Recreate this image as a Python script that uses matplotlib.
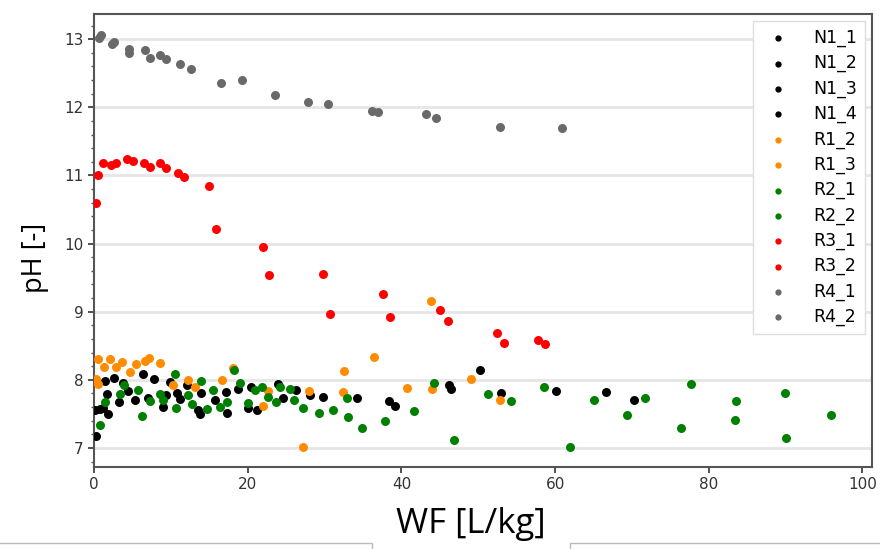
import matplotlib
matplotlib.use("Agg")
import matplotlib.pyplot as plt
from matplotlib.lines import Line2D
from matplotlib.ticker import MultipleLocator

# ---- data ----
N1_1_x = [0.22, 0.13, 0.78, 1.22, 1.87, 1.43, 1.65, 2.65, 3.82, 3.30, 4.38, 5.33]
N1_1_y = [7.18, 7.56, 7.57, 7.59, 7.50, 7.98, 7.79, 8.03, 7.95, 7.68, 7.84, 7.71]
N1_2_x = [6.42, 7.07, 7.85, 9.02, 9.89, 9.41, 10.76, 11.19, 12.06, 13.58, 13.80, 13.88]
N1_2_y = [8.09, 7.74, 8.01, 7.60, 7.97, 7.77, 7.80, 7.72, 7.93, 7.55, 7.50, 7.80]
N1_3_x = [15.75, 17.20, 17.26, 18.78, 20.00, 20.43, 21.25, 23.90, 24.55, 26.30, 28.10]
N1_3_y = [7.70, 7.82, 7.51, 7.87, 7.59, 7.89, 7.56, 7.94, 7.74, 7.85, 7.78]
N1_4_x = [29.84, 34.27, 38.40, 39.20, 46.20, 46.46, 50.20, 53.00, 60.10, 66.60, 70.30]
N1_4_y = [7.75, 7.74, 7.69, 7.62, 7.93, 7.86, 8.14, 7.80, 7.84, 7.82, 7.70]

R1_2_x = [0.52, 1.30, 2.04, 2.91, 3.69, 4.64, 5.42, 6.68, 7.11, 8.55, 0.30, 0.52, 10.30, 12.28]
R1_2_y = [8.30, 8.19, 8.31, 8.19, 8.26, 8.12, 8.23, 8.27, 8.32, 8.25, 8.01, 7.94, 7.93, 8.00]
R1_3_x = [13.14, 16.66, 18.10, 21.95, 22.70, 27.20, 27.98, 32.36, 32.58, 36.48, 40.70, 43.90, 44.00, 49.00, 52.80]
R1_3_y = [7.89, 7.99, 8.17, 7.62, 7.84, 7.02, 7.83, 7.82, 8.13, 8.33, 7.88, 9.15, 7.86, 8.01, 7.71]

R2_1_x = [0.78, 1.43, 3.38, 3.95, 5.77, 6.29, 7.29, 8.59, 9.02, 10.54, 10.63, 12.28, 12.71,
          13.88, 14.66, 15.53, 16.40, 17.35, 18.20, 18.99, 20.08, 20.95, 21.80, 22.60, 23.64, 24.20]
R2_1_y = [7.34, 7.68, 7.79, 7.92, 7.85, 7.47, 7.69, 7.79, 7.70, 8.08, 7.58, 7.77, 7.64,
          7.98, 7.57, 7.85, 7.60, 7.68, 8.15, 7.95, 7.66, 7.85, 7.89, 7.75, 7.67, 7.89]
R2_2_x = [25.50, 26.00, 27.15, 29.30, 31.10, 32.90, 33.00, 34.90, 37.90, 41.60, 44.30, 46.90, 51.30,
          54.30, 58.50, 61.90, 65.10, 69.40, 71.70, 76.40, 77.70, 83.40, 83.60, 89.96, 90.05, 95.90]
R2_2_y = [7.87, 7.70, 7.58, 7.51, 7.56, 7.73, 7.46, 7.29, 7.40, 7.54, 7.95, 7.12, 7.79,
          7.69, 7.89, 7.02, 7.70, 7.49, 7.73, 7.29, 7.94, 7.41, 7.69, 7.80, 7.15, 7.49]

R3_1_x = [0.26, 0.56, 1.21, 2.21, 2.86, 4.34, 5.03, 6.46, 7.25, 8.59, 9.37, 10.97, 11.67, 15.00]
R3_1_y = [10.59, 11.01, 11.18, 11.16, 11.19, 11.24, 11.21, 11.19, 11.13, 11.19, 11.11, 11.03, 10.97, 10.85]
R3_2_x = [15.90, 21.95, 22.77, 29.80, 30.75, 37.57, 38.47, 45.00, 46.00, 52.50, 53.30, 57.80, 58.70]
R3_2_y = [10.21, 9.95, 9.54, 9.55, 8.97, 9.26, 8.92, 9.02, 8.87, 8.68, 8.54, 8.59, 8.52]

R4_1_x = [0.65, 2.30, 4.60, 6.64, 8.55, 11.16, 16.53, 23.60, 30.40, 37.00, 44.50, 60.90]
R4_1_y = [13.02, 12.93, 12.86, 12.84, 12.77, 12.64, 12.35, 12.18, 12.05, 11.93, 11.84, 11.69]
R4_2_x = [0.91, 2.64, 4.60, 7.25, 9.37, 12.62, 19.20, 27.80, 36.20, 43.20, 52.80]
R4_2_y = [13.06, 12.96, 12.80, 12.72, 12.71, 12.56, 12.40, 12.08, 11.94, 11.90, 11.71]

series = [
    ("N1_1", N1_1_x, N1_1_y, "black"),
    ("N1_2", N1_2_x, N1_2_y, "black"),
    ("N1_3", N1_3_x, N1_3_y, "black"),
    ("N1_4", N1_4_x, N1_4_y, "black"),
    ("R1_2", R1_2_x, R1_2_y, "darkorange"),
    ("R1_3", R1_3_x, R1_3_y, "darkorange"),
    ("R2_1", R2_1_x, R2_1_y, "green"),
    ("R2_2", R2_2_x, R2_2_y, "green"),
    ("R3_1", R3_1_x, R3_1_y, "red"),
    ("R3_2", R3_2_x, R3_2_y, "red"),
    ("R4_1", R4_1_x, R4_1_y, "#696969"),
    ("R4_2", R4_2_x, R4_2_y, "#696969"),
]

fig = plt.figure(figsize=(8.8, 5.49), dpi=100)
ax = fig.add_axes([94/880, 1 - 467/549, (871.7 - 94)/880, (467 - 14)/549])

for name, xs, ys, c in series:
    ax.scatter(xs, ys, s=42, color=c, label=name, linewidths=0, zorder=3)

ax.set_xlim(0, 101.2)
ax.set_ylim(6.72, 13.37)
ax.xaxis.set_major_locator(MultipleLocator(20))
ax.yaxis.set_major_locator(MultipleLocator(1))
ax.yaxis.set_minor_locator(MultipleLocator(0.2))
ax.grid(axis="y", which="major", color="#e6e6e6", linewidth=2, zorder=0)
ax.set_axisbelow(True)

for s in ax.spines.values():
    s.set_color("#555555")
    s.set_linewidth(1.5)
ax.tick_params(axis="both", which="major", labelsize=11, colors="#333333", length=4, width=1.2)
ax.tick_params(axis="y", which="minor", length=2.5, width=1, colors="#555555")

ax.set_xlabel("WF [L/kg]", fontsize=25, family="Open Sans")
ax.set_ylabel("pH [-]", fontsize=19.5, family="Open Sans")
ax.xaxis.set_label_coords((471 - 94) / 777.7, (467 - 507) / 453)
ax.yaxis.set_label_coords((49 - 94) / 777.7, (467 - 258) / 453)

leg = ax.legend(loc="upper right", fontsize=12.5, markerscale=0.7, labelspacing=0.41,
                handletextpad=1.0, borderaxespad=0.4, borderpad=0.45, frameon=True,
                fancybox=False, edgecolor="#dddddd", framealpha=1)

# bottom screenshot frame fragments
fig.add_artist(Line2D([0, 372/880, 372/880], [1-543/549, 1-543/549, 0], color="#bbbbbb", lw=1))
fig.add_artist(Line2D([1, 570/880, 570/880], [1-543/549, 1-543/549, 0], color="#bbbbbb", lw=1))

fig.savefig("out.png", dpi=100)
